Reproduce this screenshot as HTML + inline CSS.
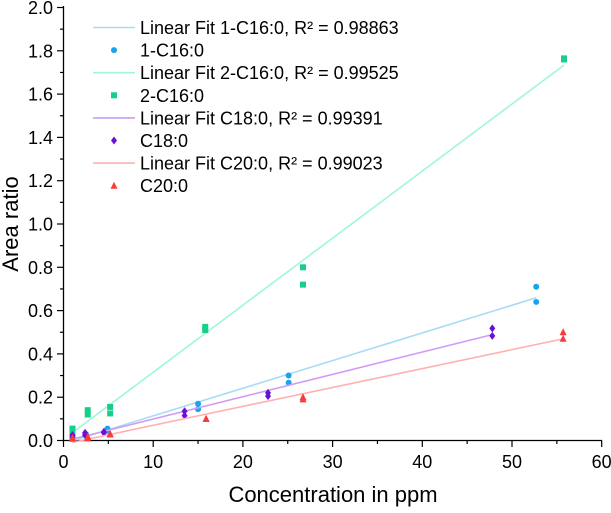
<!DOCTYPE html>
<html><head><meta charset="utf-8"><style>
body{margin:0;background:#fff;font-family:"Liberation Sans",Arial,sans-serif}
svg text{font-family:"Liberation Sans",Arial,sans-serif}
</style></head><body>
<svg id="c" width="611" height="508"></svg>
<script>
const xs1=[1,1,2.5,2.5,4.9,4.9,15,15,25.1,25.1,52.7,52.7];
const ys1=[0.02,0.01,0.03,0.025,0.055,0.045,0.17,0.145,0.30,0.267,0.71,0.64];
const xs2=[1,1,2.7,2.7,5.2,5.2,15.8,15.8,26.7,26.7,55.8,55.8];
const ys2=[0.055,0.03,0.14,0.12,0.155,0.125,0.525,0.51,0.80,0.72,1.765,1.76];
const xs3=[1,1,2.4,2.4,4.5,4.5,13.5,13.5,22.8,22.8,47.8,47.8];
const ys3=[0.025,0.015,0.035,0.025,0.04,0.035,0.135,0.115,0.22,0.205,0.518,0.483];
const xs4=[1,1,2.7,2.7,5.2,5.2,15.9,15.9,26.7,26.7,55.7,55.7];
const ys4=[0.012,0.008,0.018,0.01,0.03,0.028,0.10,0.10,0.20,0.19,0.50,0.47];
const xTicks=[0,10,20,30,40,50,60];
const yTicks=[0,0.2,0.4,0.6,0.8,1.0,1.2,1.4,1.6,1.8,2.0];
const legendLabels=["Linear Fit 1-C16:0, R² = 0.98863","1-C16:0","Linear Fit 2-C16:0, R² = 0.99525","2-C16:0","Linear Fit C18:0, R² = 0.99391","C18:0","Linear Fit C20:0, R² = 0.99023","C20:0"];
const NS="http://www.w3.org/2000/svg",svg=document.getElementById('c');
const X=v=>63.5+v*8.97, Y=v=>440.5-v*216.5;
function el(t,a,p){const e=document.createElementNS(NS,t);for(const k in a)e.setAttribute(k,a[k]);(p||svg).appendChild(e);return e;}
let ax=el('line',{x1:63,y1:440.5,x2:602,y2:440.5,stroke:'#000','stroke-width':1.3});

let ay=el('line',{x1:63.5,y1:6,x2:63.5,y2:441,stroke:'#000','stroke-width':1.3});

for(let v=0;v<=60;v+=5){el('line',{x1:X(v),x2:X(v),y1:440.5,y2:v%10?444:447,stroke:'#000','stroke-width':1.2});}
xTicks.forEach(v=>{const t=el('text',{x:X(v),y:468,'text-anchor':'middle','font-size':18});t.textContent=v;
});
for(let i=0;i<=20;i++){const v=i/10;el('line',{x1:63.5,x2:i%2?60:57,y1:Y(v),y2:Y(v),stroke:'#000','stroke-width':1.2});}
yTicks.forEach(v=>{const t=el('text',{x:53,y:Y(v)+6.5,'text-anchor':'end','font-size':18});t.textContent=v.toFixed(1);
});
let xt=el('text',{x:333,y:502,'text-anchor':'middle','font-size':22});xt.textContent='Concentration in ppm';

let yt=el('text',{x:0,y:0,'text-anchor':'middle','font-size':22,transform:'translate(18,224) rotate(-90)'});yt.textContent='Area ratio';

const series=[[xs1,ys1,'#a8dcf4','#1aa3f0','circle','series-1-c16'],[xs2,ys2,'#9ff5dd','#17cf88','square','series-2-c16'],[xs3,ys3,'#cf9cf2','#6a10d6','diamond','series-c18'],[xs4,ys4,'#ffb0b0','#f83b3b','tri','series-c20']];
function marker(g,s,cx,cy,c,r){
 if(s=='circle')return el('circle',{cx,cy,r:r,fill:c},g);
 if(s=='square')return el('rect',{x:cx-r,y:cy-r,width:2*r,height:2*r,fill:c},g);
 if(s=='diamond')return el('polygon',{points:`${cx},${cy-r-1} ${cx+r},${cy} ${cx},${cy+r+1} ${cx-r},${cy}`,fill:c},g);
 return el('polygon',{points:`${cx},${cy-r-1} ${cx+r+0.5},${cy+r} ${cx-r-0.5},${cy+r}`,fill:c},g);
}
series.forEach(([xs,ys,lc,mc,sh,nm])=>{
 const g=el('g',{});
 const n=xs.length;let mx=0,my=0;for(let i=0;i<n;i++){mx+=xs[i];my+=ys[i];}mx/=n;my/=n;
 let sxy=0,sxx=0;for(let i=0;i<n;i++){sxy+=(xs[i]-mx)*(ys[i]-my);sxx+=(xs[i]-mx)**2;}
 const b=sxy/sxx,a=my-b*mx,x0=Math.min(...xs),x1=Math.max(...xs);
 const l=el('line',{x1:X(x0),y1:Y(a+b*x0),x2:X(x1),y2:Y(a+b*x1),stroke:lc,'stroke-width':1.6},g);
 
 for(let i=0;i<n;i++){const m=marker(g,sh,X(xs[i]),Y(ys[i]),mc,3);
  }
});
const lg=el('g',{});
legendLabels.forEach((s,i)=>{const y=27.5+i*22.6,sr=series[i>>1];
 if(i%2==0){el('line',{x1:93,x2:135,y1:y,y2:y,stroke:sr[2],'stroke-width':1.6},lg);}
 else marker(lg,sr[4],114,y,sr[3],3);
 const t=el('text',{x:140,y:y+6.5,'font-size':18},lg);t.textContent=s;
 });
</script></body></html>
